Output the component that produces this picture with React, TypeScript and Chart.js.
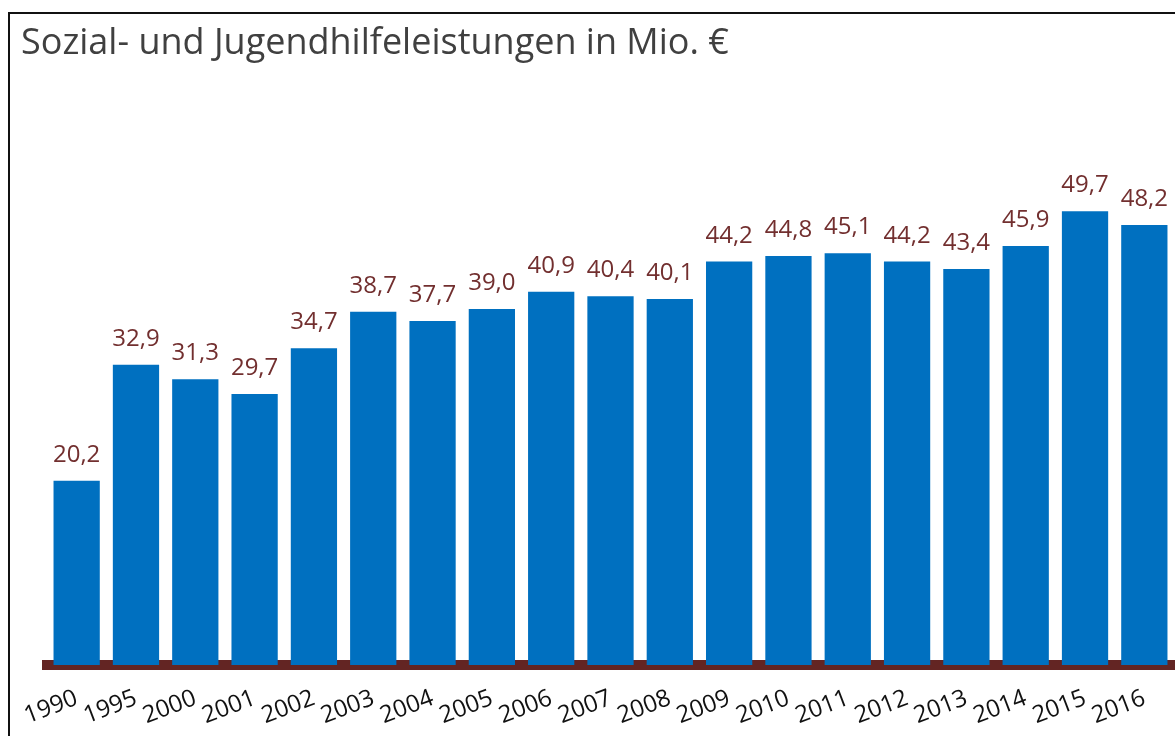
import React, { useEffect, useRef } from "react";
import { Chart, registerables } from "chart.js";

Chart.register(...registerables);

const categories = ["1990", "1995", "2000", "2001", "2002", "2003", "2004", "2005", "2006", "2007", "2008", "2009", "2010", "2011", "2012", "2013", "2014", "2015", "2016"];
const values = [20.2, 32.9, 31.3, 29.7, 34.7, 38.7, 37.7, 39.0, 40.9, 40.4, 40.1, 44.2, 44.8, 45.1, 44.2, 43.4, 45.9, 49.7, 48.2];
const titleText = "Sozial- und Jugendhilfeleistungen in Mio. €";

const FONT = "'Open Sans', 'Noto Sans', sans-serif";

const valueLabels = {
  id: "valueLabels",
  afterDatasetsDraw(chart: any) {
    const ctx = chart.ctx;
    const meta = chart.getDatasetMeta(0);
    ctx.save();
    ctx.fillStyle = "#722F2F";
    ctx.font = `24px ${FONT}`;
    ctx.textAlign = "center";
    ctx.textBaseline = "alphabetic";
    meta.data.forEach((bar: any, i: number) => {
      const v = chart.data.datasets[0].data[i] as number;
      ctx.fillText(v.toFixed(1).replace(".", ","), bar.x, bar.y - 19);
    });
    ctx.restore();
  },
};

export default function App() {
  const ref = useRef<HTMLCanvasElement>(null);
  useEffect(() => {
    if (!ref.current) return;
    const chart = new Chart(ref.current, {
      type: "bar",
      data: {
        labels: categories,
        datasets: [
          {
            data: values,
            backgroundColor: "#0070C0",
            barPercentage: 0.78,
            categoryPercentage: 1,
          },
        ],
      },
      options: {
        responsive: false,
        animation: false,
        layout: { padding: { left: 47, right: 1, top: 163, bottom: 0 } },
        plugins: {
          legend: { display: false },
          tooltip: { enabled: false },
          title: { display: false },
        },
        scales: {
          x: {
            z: 1,
            grid: { display: false, drawTicks: false },
            border: { display: true, color: "#632523", width: 10 },
            ticks: {
              color: "#111111",
              font: { family: FONT, size: 24 },
              minRotation: 21,
              maxRotation: 21,
              padding: 19,
              autoSkip: false,
            },
            afterFit(scale: any) {
              scale.height = 71;
            },
          },
          y: {
            display: false,
            min: 0,
            max: 55,
          },
        },
      },
      plugins: [valueLabels],
    });
    return () => chart.destroy();
  }, []);

  return (
    <div style={{ position: "fixed", left: 0, top: 0, width: 1175, height: 736, overflow: "hidden", background: "#fff" }}>
      <canvas ref={ref} width={1175} height={736} style={{ position: "absolute", left: 0, top: 0, width: 1175, height: 736 }} />
      <div
        style={{
          position: "absolute",
          left: 8,
          top: 12,
          width: 1200,
          height: 800,
          border: "2px solid #111",
          boxSizing: "border-box",
          pointerEvents: "none",
        }}
      />
      <div
        style={{
          position: "absolute",
          left: 21,
          top: 21,
          fontFamily: FONT,
          fontSize: 36,
          color: "#404040",
          lineHeight: "40px",
          whiteSpace: "nowrap",
        }}
      >
        {titleText}
      </div>
    </div>
  );
}
